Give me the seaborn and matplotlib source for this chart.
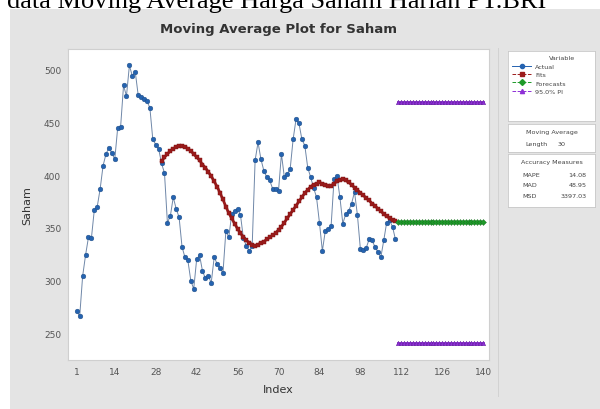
import numpy as np
import pandas as pd
import matplotlib
matplotlib.use("Agg")
import matplotlib.pyplot as plt
from matplotlib.patches import Rectangle
from matplotlib.lines import Line2D
import seaborn as sns

# ---------------- data ----------------
actual = [271, 266, 304, 324, 341, 340, 367, 370, 387, 409,
          420, 426, 421, 415, 445, 446, 485, 475, 504, 494,
          498, 476, 474, 472, 470, 464, 434, 429, 425, 411,
          402, 355, 361, 379, 368, 360, 332, 322, 319, 300,
          292, 320, 324, 309, 302, 304, 298, 322, 316, 312,
          307, 347, 341, 363, 366, 368, 362, 340, 333, 328,
          333, 414, 431, 415, 404, 398, 395, 387, 387, 385,
          420, 398, 401, 406, 434, 453, 449, 434, 428, 407,
          398, 388, 379, 355, 328, 347, 349, 352, 396, 399,
          379, 354, 363, 366, 373, 384, 362, 330, 329, 331,
          339, 338, 332, 327, 322, 338, 355, 357, 351, 339]
fits_start = 30
fits = [413, 417, 420, 423, 425, 427, 428, 428, 427, 425,
        423, 420, 417, 414, 410, 407, 403, 399, 394, 389,
        383, 377, 370, 364, 359, 354, 349, 345, 341, 338,
        336, 334, 333, 334, 336, 337, 339, 341, 343, 345,
        348, 351, 355, 359, 363, 367, 371, 375, 379, 383,
        386, 389, 391, 392, 393, 392, 391, 390, 390, 392,
        394, 395, 396, 395, 393, 391, 388, 386, 383, 381,
        378, 376, 373, 371, 368, 366, 363, 361, 359, 357,
        356]
forecast_start, forecast_end = 111, 140
forecast_level = 355.5
pi_upper_level = 469.0
pi_lower_level = 241.0

x_ticks = [1, 14, 28, 42, 56, 70, 84, 98, 112, 126, 140]
y_ticks = [250, 300, 350, 400, 450, 500]

title = "Moving Average Plot for Saham"
x_label = "Index"
y_label = "Saham"
caption = "data Moving Average Harga Saham Harian PT.BRI"
ma_length = "30"
accuracy = [("MAPE", "14.08"), ("MAD", "48.95"), ("MSD", "3397.03")]

# ---------------- tables ----------------
df_act = pd.DataFrame({"Index": np.arange(1, len(actual) + 1), "Saham": actual})
df_fit = pd.DataFrame({"Index": np.arange(fits_start, fits_start + len(fits)), "Saham": fits})
f_idx = np.arange(forecast_start, forecast_end + 1)
df_fc = pd.DataFrame({"Index": f_idx, "Saham": np.full(len(f_idx), forecast_level)})
df_up = pd.DataFrame({"Index": f_idx, "Saham": np.full(len(f_idx), pi_upper_level)})
df_lo = pd.DataFrame({"Index": f_idx, "Saham": np.full(len(f_idx), pi_lower_level)})

# ---------------- figure ----------------
W, H = 600, 410
fig = plt.figure(figsize=(6.0, 4.1), dpi=100, facecolor="white")
bg = "#e4e4e4"
fig.patches.append(Rectangle((10 / W, 0), 1 - 10 / W, 1 - 10 / H,
                             transform=fig.transFigure, facecolor=bg,
                             edgecolor="none", zorder=-10))
# thin separator of the side panel
fig.patches.append(Rectangle((498 / W, 0.03), 1 / W, 0.85,
                             transform=fig.transFigure, facecolor="#d2d2d2",
                             edgecolor="none", zorder=-9))
fig.text(7 / W, 1 - 8 / H, caption, fontsize=19, family="Liberation Serif",
         va="baseline", ha="left", color="black")

l, r, t, b = 68, 489, 50, 361
ax = fig.add_axes([l / W, 1 - b / H, (r - l) / W, (b - t) / H])
ax.set_facecolor("white")

c_act = "#2563b0"
c_fit = "#9c1b1b"
c_fc = "#1f9a2a"
c_pi = "#8e2fd6"

sns.lineplot(data=df_act, x="Index", y="Saham", ax=ax, color="#6f87a8",
             lw=0.7, marker="o", markersize=3.4, markerfacecolor=c_act,
             markeredgecolor="#1e4a80", markeredgewidth=0.3, zorder=3)
sns.lineplot(data=df_fit, x="Index", y="Saham", ax=ax, color=c_fit,
             lw=2.0, marker="s", markersize=3.0, markerfacecolor=c_fit,
             markeredgecolor="#7a1212", markeredgewidth=0.3, zorder=4)
sns.lineplot(data=df_fc, x="Index", y="Saham", ax=ax, color=c_fc,
             lw=2.0, marker="D", markersize=3.0, markerfacecolor=c_fc,
             markeredgecolor="#146b1c", markeredgewidth=0.3, zorder=4)
for d in (df_up, df_lo):
    sns.lineplot(data=d, x="Index", y="Saham", ax=ax, color=c_pi,
                 lw=2.0, marker="^", markersize=3.2, markerfacecolor=c_pi,
                 markeredgecolor="#5a1a90", markeredgewidth=0.3, zorder=4)

ax.set_xlim(-2, 142)
ax.set_ylim(224.6, 519.6)
ax.set_xticks(x_ticks)
ax.set_yticks(y_ticks)
ax.tick_params(axis="both", labelsize=6.5, colors="#555555", length=0, pad=5)
for s in ax.spines.values():
    s.set_color("#cfcfcf")
    s.set_linewidth(0.8)
ax.grid(False)
ax.set_xlabel(x_label, fontsize=8, color="#333333", labelpad=6)
ax.set_ylabel(y_label, fontsize=8, color="#333333", labelpad=8)
fig.text((l + r) / 2 / W, 1 - 30 / H, title, fontsize=9.5, fontweight="bold",
         color="#333333", ha="center", va="center")

# ---------------- legend / info boxes ----------------
def box(y0, y1):
    a = fig.add_axes([508 / W, 1 - y1 / H, (595 - 508) / W, (y1 - y0) / H])
    a.set_xlim(0, 1)
    a.set_ylim(0, 1)
    a.set_facecolor("white")
    a.set_xticks([])
    a.set_yticks([])
    for s in a.spines.values():
        s.set_color("#c8c8c8")
        s.set_linewidth(0.6)
    return a

fs = 4.6
tc = "#444444"
a1 = box(52, 122)
a1.text(0.62, 0.91, "Variable", fontsize=fs, ha="center", va="center", color=tc)
handles = [
    Line2D([], [], color=c_act, lw=0.7, marker="o", markersize=3),
    Line2D([], [], color=c_fit, lw=0.7, ls="--", marker="s", markersize=3),
    Line2D([], [], color=c_fc, lw=0.7, ls="--", marker="D", markersize=3),
    Line2D([], [], color=c_pi, lw=0.7, ls="--", marker="^", markersize=3),
]
labels = ["Actual", "Fits", "Forecasts", "95.0% PI"]
a1.legend(handles, labels, loc="upper left", bbox_to_anchor=(0.02, 0.86),
          frameon=False, fontsize=fs, handlelength=3.0, handletextpad=0.6,
          labelspacing=0.45, borderaxespad=0, labelcolor=tc)

a2 = box(125, 153)
a2.text(0.5, 0.72, "Moving Average", fontsize=fs, ha="center", va="center", color=tc)
a2.text(0.45, 0.3, "Length", fontsize=fs, ha="right", va="center", color=tc)
a2.text(0.62, 0.3, ma_length, fontsize=fs, ha="center", va="center", color=tc)

a3 = box(155, 208)
a3.text(0.5, 0.86, "Accuracy Measures", fontsize=fs, ha="center", va="center", color=tc)
for k, (nm, val) in enumerate(accuracy):
    yy = 0.62 - k * 0.2
    a3.text(0.16, yy, nm, fontsize=fs, ha="left", va="center", color=tc)
    a3.text(0.9, yy, val, fontsize=fs, ha="right", va="center", color=tc)

fig.savefig("out.png", dpi=100, facecolor=fig.get_facecolor())
